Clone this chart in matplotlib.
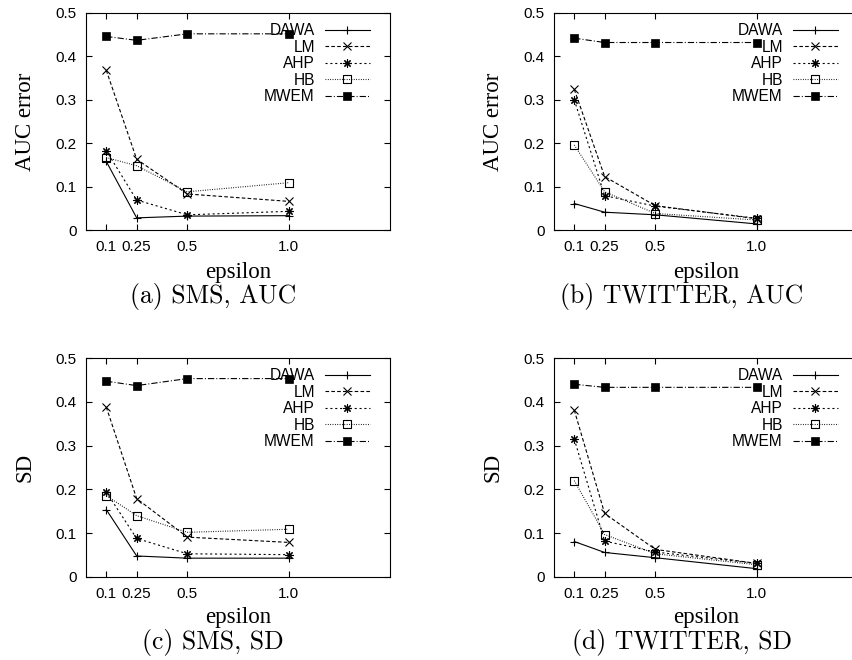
import matplotlib
matplotlib.use("Agg")
import matplotlib.pyplot as plt
from matplotlib.path import Path
from matplotlib.font_manager import FontProperties

# ---------------- data ----------------
epsilon = [0.1, 0.25, 0.5, 1.0]
eps_labels = ["0.1", "0.25", "0.5", "1.0"]
y_ticks = [0.0, 0.1, 0.2, 0.3, 0.4, 0.5]
y_tick_labels = ["0", "0.1", "0.2", "0.3", "0.4", "0.5"]
methods = ["DAWA", "LM", "AHP", "HB", "MWEM"]

# (a) SMS, AUC
sms_auc_dawa = [0.158, 0.028, 0.032, 0.033]
sms_auc_lm = [0.368, 0.163, 0.083, 0.066]
sms_auc_ahp = [0.183, 0.069, 0.035, 0.043]
sms_auc_hb = [0.167, 0.148, 0.088, 0.109]
sms_auc_mwem = [0.446, 0.437, 0.452, 0.452]

# (b) TWITTER, AUC
tw_auc_dawa = [0.061, 0.041, 0.035, 0.014]
tw_auc_lm = [0.324, 0.123, 0.056, 0.026]
tw_auc_ahp = [0.300, 0.079, 0.055, 0.027]
tw_auc_hb = [0.196, 0.088, 0.038, 0.023]
tw_auc_mwem = [0.442, 0.432, 0.432, 0.432]

# (c) SMS, SD
sms_sd_dawa = [0.154, 0.048, 0.043, 0.043]
sms_sd_lm = [0.388, 0.179, 0.091, 0.079]
sms_sd_ahp = [0.194, 0.088, 0.053, 0.051]
sms_sd_hb = [0.186, 0.140, 0.102, 0.109]
sms_sd_mwem = [0.447, 0.437, 0.453, 0.453]

# (d) TWITTER, SD
tw_sd_dawa = [0.081, 0.056, 0.044, 0.019]
tw_sd_lm = [0.381, 0.145, 0.063, 0.031]
tw_sd_ahp = [0.315, 0.082, 0.057, 0.031]
tw_sd_hb = [0.220, 0.097, 0.053, 0.028]
tw_sd_mwem = [0.440, 0.433, 0.433, 0.433]

panels = [
    ("AUC error", "(a) SMS, AUC",
     [sms_auc_dawa, sms_auc_lm, sms_auc_ahp, sms_auc_hb, sms_auc_mwem]),
    ("AUC error", "(b) TWITTER, AUC",
     [tw_auc_dawa, tw_auc_lm, tw_auc_ahp, tw_auc_hb, tw_auc_mwem]),
    ("SD", "(c) SMS, SD",
     [sms_sd_dawa, sms_sd_lm, sms_sd_ahp, sms_sd_hb, sms_sd_mwem]),
    ("SD", "(d) TWITTER, SD",
     [tw_sd_dawa, tw_sd_lm, tw_sd_ahp, tw_sd_hb, tw_sd_mwem]),
]

# ---------------- styles ----------------
plt.rcParams["lines.scale_dashes"] = False

# open square with a tiny dot in the centre (gnuplot style)
_sq = [(-0.5, -0.5), (0.5, -0.5), (0.5, 0.5), (-0.5, 0.5), (-0.5, -0.5)]
_dt = [(-0.05, -0.05), (0.05, -0.05), (0.05, 0.05), (-0.05, 0.05), (-0.05, -0.05)]
_codes = [Path.MOVETO, Path.LINETO, Path.LINETO, Path.LINETO, Path.CLOSEPOLY]
hb_marker = Path(_sq + _dt, _codes + _codes)

styles = [
    dict(linestyle="-", marker="+", ms=5.5, mew=0.8),
    dict(linestyle=(0, (2.6, 1.6)), marker="x", ms=5.3, mew=0.8),
    dict(linestyle=(0, (1.5, 2.0)), marker=(8, 2, 0), ms=6.0, mew=0.8),
    dict(linestyle=(0, (0.6, 1.1)), marker=hb_marker, ms=6.0, mew=0.8,
         mfc="none"),
    dict(linestyle=(0, (4.5, 1.5, 0.7, 1.5)), marker="s", ms=5.8, mew=0.5),
]

W, H = 853, 660
fig = plt.figure(figsize=(W / 100, H / 100), dpi=100)

boxes = [(86, 13, 390, 230), (554, 13, 858, 230),
         (86, 358, 390, 577), (554, 358, 858, 577)]
caption_pos = [(213, 303), (682, 303), (213, 649.5), (682, 649.5)]
xlabel_offset = [48.0, 48.0, 45.5, 45.5]   # px from axis line to xlabel baseline

tick_font = "Liberation Sans"
label_font = "Liberation Serif"

for (ylab, cap, series), (l, t, r, b), (cx, cy), xoff in zip(
        panels, boxes, caption_pos, xlabel_offset):
    ax = fig.add_axes([l / W, 1 - b / H, (r - l) / W, (b - t) / H])
    for name, vals, st in zip(methods, series, styles):
        ax.plot(epsilon, vals, color="black", lw=0.8, label=name,
                clip_on=False, **st)
    ax.set_xlim(0, 1.5)
    ax.set_ylim(0, 0.5)
    ax.set_xticks(epsilon)
    ax.set_xticklabels(eps_labels)
    ax.set_yticks(y_ticks)
    ax.set_yticklabels(y_tick_labels)
    ax.tick_params(direction="in", length=4.5, width=0.8, top=True,
                   right=True, labelsize=11)
    ax.tick_params(axis="x", pad=7.0)
    ax.tick_params(axis="y", pad=6.5)
    for lab in ax.get_xticklabels() + ax.get_yticklabels():
        lab.set_family(tick_font)
    for sp in ax.spines.values():
        sp.set_linewidth(0.8)
    hpx = b - t
    wpx = r - l
    ax.set_xlabel("epsilon", family=label_font, fontsize=16.5, va="baseline")
    ax.xaxis.set_label_coords(0.5, -xoff / hpx)
    ax.set_ylabel(ylab, family=label_font, fontsize=16.5, va="baseline")
    ax.yaxis.set_label_coords(-55 / wpx, 0.5)

    leg = ax.legend(loc="upper right", bbox_to_anchor=(1 - 20 / wpx, 1 - 10 / hpx),
                    frameon=False, markerfirst=False, numpoints=1,
                    handlelength=2.9, handletextpad=0.65, labelspacing=0.1,
                    borderpad=0, borderaxespad=0,
                    prop=FontProperties(family=tick_font, size=11.2))

    fig.text(cx / W, 1 - cy / H, cap, family="cmr10", fontsize=18.5,
             ha="center", va="baseline")

fig.savefig("out.png", dpi=100)
